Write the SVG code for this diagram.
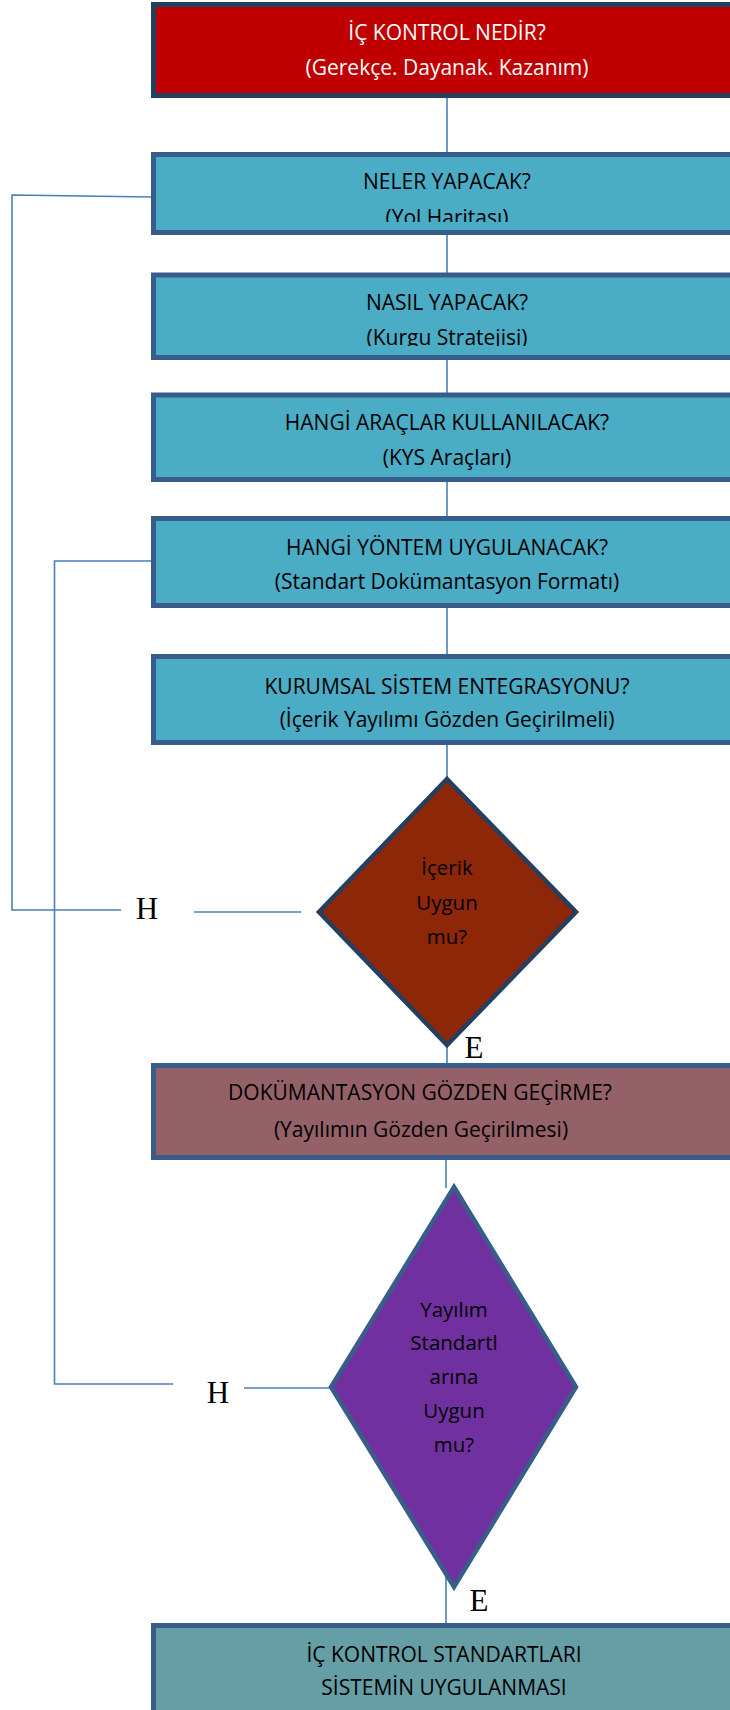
<svg xmlns="http://www.w3.org/2000/svg" width="730" height="1710" viewBox="0 0 730 1710">
<style>
.box{stroke-width:5}
.teal{fill:#4BACC6;stroke:#385D8A}
.t{font-family:"Open Sans","Liberation Sans",sans-serif;font-size:21px;text-anchor:middle;fill:#000}
.d{font-size:20.5px}
.w{fill:#fff}
.lbl{font-family:"Liberation Serif","Times New Roman",serif;font-size:31px;text-anchor:middle;fill:#000}
.c{stroke:#4A7EBB;stroke-width:1.6;fill:none}
</style>
<defs>
<clipPath id="clip2"><rect x="150" y="150" width="600" height="72"/></clipPath>
<clipPath id="clip3"><rect x="150" y="270" width="600" height="76"/></clipPath>
</defs>
<g id="connectors">
<line class="c" x1="447" y1="98" x2="447" y2="153"/>
<line class="c" x1="447" y1="234" x2="447" y2="274"/>
<line class="c" x1="447" y1="359" x2="447" y2="394"/>
<line class="c" x1="447" y1="481" x2="447" y2="517"/>
<line class="c" x1="447" y1="607" x2="447" y2="655"/>
<line class="c" x1="447" y1="744" x2="447" y2="778"/>
<line class="c" x1="447" y1="1046" x2="447" y2="1064"/>
<line class="c" x1="446" y1="1160" x2="446" y2="1188"/>
<line class="c" x1="446" y1="1570" x2="446" y2="1624"/>
<polyline class="c" points="152,197 12,195 12,910 121,910"/>
<line class="c" x1="194" y1="912" x2="301" y2="912"/>
<polyline class="c" points="151,561 54.5,561 54.5,1384 173,1384"/>
<line class="c" x1="244" y1="1388" x2="330" y2="1388"/>
</g>
<g id="n1">
<rect class="box" x="153.5" y="4.5" width="600" height="91" fill="#C00000" stroke="#243F60"/>
<text class="t w" x="447" y="40">İÇ KONTROL NEDİR?</text>
<text class="t w" x="447" y="75">(Gerekçe. Dayanak. Kazanım)</text>
</g>
<g id="n2">
<rect class="box teal" x="153.5" y="154.5" width="600" height="78"/>
<g clip-path="url(#clip2)">
<text class="t" x="447" y="189">NELER YAPACAK?</text>
<text class="t" x="447" y="225">(Yol Haritası)</text>
</g>
</g>
<g id="n3">
<rect class="box teal" x="153.5" y="275" width="600" height="82.5"/>
<g clip-path="url(#clip3)">
<text class="t" x="447" y="310">NASIL YAPACAK?</text>
<text class="t" x="447" y="345">(Kurgu Stratejisi)</text>
</g>
</g>
<g id="n4">
<rect class="box teal" x="153.5" y="395" width="600" height="84.5"/>
<text class="t" x="447" y="430">HANGİ ARAÇLAR KULLANILACAK?</text>
<text class="t" x="447" y="465">(KYS Araçları)</text>
</g>
<g id="n5">
<rect class="box teal" x="153.5" y="518.5" width="600" height="87"/>
<text class="t" x="447" y="555">HANGİ YÖNTEM UYGULANACAK?</text>
<text class="t" x="447" y="589">(Standart Dokümantasyon Formatı)</text>
</g>
<g id="n6">
<rect class="box teal" x="153.5" y="656.5" width="600" height="86"/>
<text class="t" x="447" y="694">KURUMSAL SİSTEM ENTEGRASYONU?</text>
<text class="t" x="447" y="727">(İçerik Yayılımı Gözden Geçirilmeli)</text>
</g>
<g id="d1">
<polygon points="447,779 576,912 447,1045 319,912" fill="#8E2708" stroke="#243F60" stroke-width="4.5" stroke-linejoin="miter"/>
<text class="t d" x="447" y="875">İçerik</text>
<text class="t d" x="447" y="910">Uygun</text>
<text class="t d" x="447" y="944">mu?</text>
</g>
<g id="lbl-h1"><text class="lbl" x="147" y="919">H</text></g>
<g id="lbl-e1"><text class="lbl" x="474" y="1058">E</text></g>
<g id="n7">
<rect class="box" x="153.5" y="1065.5" width="600" height="92" fill="#956169" stroke="#385D8A"/>
<text class="t" x="420" y="1100">DOKÜMANTASYON GÖZDEN GEÇİRME?</text>
<text class="t" x="421" y="1137">(Yayılımın Gözden Geçirilmesi)</text>
</g>
<g id="d2">
<polygon points="454,1187 576,1387 454,1587 331,1387" fill="#7030A0" stroke="#385D8A" stroke-width="4.5"/>
<text class="t d" x="454" y="1317">Yayılım</text>
<text class="t d" x="454" y="1350">Standartl</text>
<text class="t d" x="454" y="1384">arına</text>
<text class="t d" x="454" y="1418">Uygun</text>
<text class="t d" x="454" y="1452">mu?</text>
</g>
<g id="lbl-h2"><text class="lbl" x="218" y="1403">H</text></g>
<g id="lbl-e2"><text class="lbl" x="479" y="1611">E</text></g>
<g id="n8">
<rect class="box" x="153.5" y="1625.5" width="600" height="100" fill="#669EA6" stroke="#385D8A"/>
<text class="t" x="444" y="1662">İÇ KONTROL STANDARTLARI</text>
<text class="t" x="444" y="1695">SİSTEMİN UYGULANMASI</text>
</g>
</svg>
